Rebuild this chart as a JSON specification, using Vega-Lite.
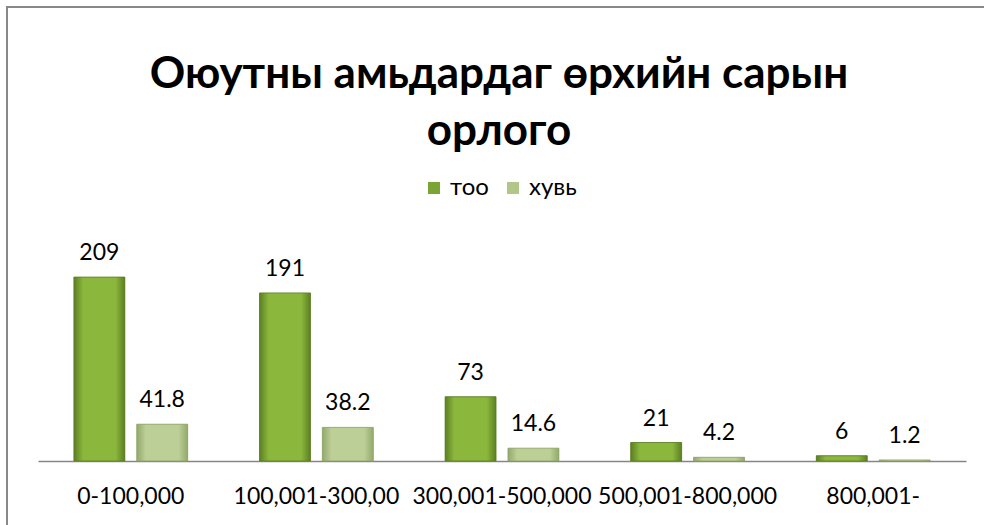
{
  "$schema": "https://vega.github.io/schema/vega-lite/v6.json",
  "usermeta": {"embedOptions": {"actions": false}},
  "width": 980,
  "height": 521,
  "autosize": {"type": "none"},
  "padding": {"left": 7, "top": 7, "right": -3, "bottom": -3},
  "background": "white",
  "config": {"view": {"stroke": "#888888", "strokeWidth": 2}, "font": "Lato"},
  "title": {
    "text": ["Оюутны амьдардаг өрхийн сарын", "орлого"],
    "fontSize": 44,
    "fontWeight": "bold",
    "font": "Lato",
    "color": "#000000",
    "anchor": "middle",
    "frame": "group",
    "lineHeight": 57,
    "offset": -147,
    "dx": 2
  },
  "data": {
    "values": [
      {"category": "0-100,000", "series": "тоо", "value": 209},
      {"category": "0-100,000", "series": "хувь", "value": 41.8},
      {"category": "100,001-300,00", "series": "тоо", "value": 191},
      {"category": "100,001-300,00", "series": "хувь", "value": 38.2},
      {"category": "300,001-500,000", "series": "тоо", "value": 73},
      {"category": "300,001-500,000", "series": "хувь", "value": 14.6},
      {"category": "500,001-800,000", "series": "тоо", "value": 21},
      {"category": "500,001-800,000", "series": "хувь", "value": 4.2},
      {"category": "800,001-", "series": "тоо", "value": 6},
      {"category": "800,001-", "series": "хувь", "value": 1.2}
    ]
  },
  "encoding": {
    "x": {
      "field": "category",
      "type": "nominal",
      "sort": null,
      "scale": {"range": [31, 959], "paddingInner": 0.387, "paddingOuter": 0.1935},
      "axis": {
        "title": null,
        "orient": "bottom",
        "offset": -67,
        "ticks": false,
        "grid": false,
        "domainColor": "#868686",
        "domainWidth": 1.5,
        "labelFont": "Lato",
        "labelFontSize": 23,
        "labelColor": "#000000",
        "labelPadding": 24,
        "labelAngle": 0,
        "labelOverlap": false,
        "labelLimit": 0
      }
    },
    "xOffset": {
      "field": "series",
      "type": "nominal",
      "sort": ["тоо", "хувь"],
      "scale": {"paddingInner": 0.19, "paddingOuter": 0}
    },
    "y": {
      "field": "value",
      "type": "quantitative",
      "scale": {"domain": [0, 250], "range": [454, 234]},
      "axis": null
    }
  },
  "layer": [
    {
      "mark": {"type": "bar"},
      "encoding": {
        "color": {
          "field": "series",
          "type": "nominal",
          "sort": ["тоо", "хувь"],
          "scale": {"range": ["#7aa535", "#b3c68a"]},
          "legend": {
            "orient": "none",
            "legendX": 415,
            "legendY": 169,
            "direction": "horizontal",
            "title": null,
            "symbolType": "square",
            "symbolSize": 144,
            "symbolStrokeWidth": 0,
            "labelFont": "Lato",
            "labelFontSize": 24,
            "labelColor": "#000000",
            "labelOffset": 4,
            "columnPadding": 12
          }
        }
      }
    },
    {
      "transform": [{"filter": "datum.series === 'тоо'"}],
      "mark": {
        "type": "bar",
        "stroke": "#5a7b20",
        "strokeWidth": 0.8,
        "fill": {
          "gradient": "linear",
          "x1": 0, "y1": 0, "x2": 1, "y2": 0,
          "stops": [
            {"offset": 0, "color": "#5c7f22"},
            {"offset": 0.18, "color": "#8ab73c"},
            {"offset": 0.82, "color": "#8ab73c"},
            {"offset": 1, "color": "#5c7f22"}
          ]
        }
      }
    },
    {
      "transform": [{"filter": "datum.series === 'хувь'"}],
      "mark": {
        "type": "bar",
        "stroke": "#8ea266",
        "strokeWidth": 0.8,
        "fill": {
          "gradient": "linear",
          "x1": 0, "y1": 0, "x2": 1, "y2": 0,
          "stops": [
            {"offset": 0, "color": "#93a96c"},
            {"offset": 0.18, "color": "#bccf97"},
            {"offset": 0.82, "color": "#bccf97"},
            {"offset": 1, "color": "#93a96c"}
          ]
        }
      }
    },
    {
      "mark": {"type": "text", "dy": -17, "baseline": "alphabetic", "fontSize": 23, "font": "Lato", "color": "#000000"},
      "encoding": {"text": {"field": "value", "type": "quantitative"}}
    }
  ]
}
